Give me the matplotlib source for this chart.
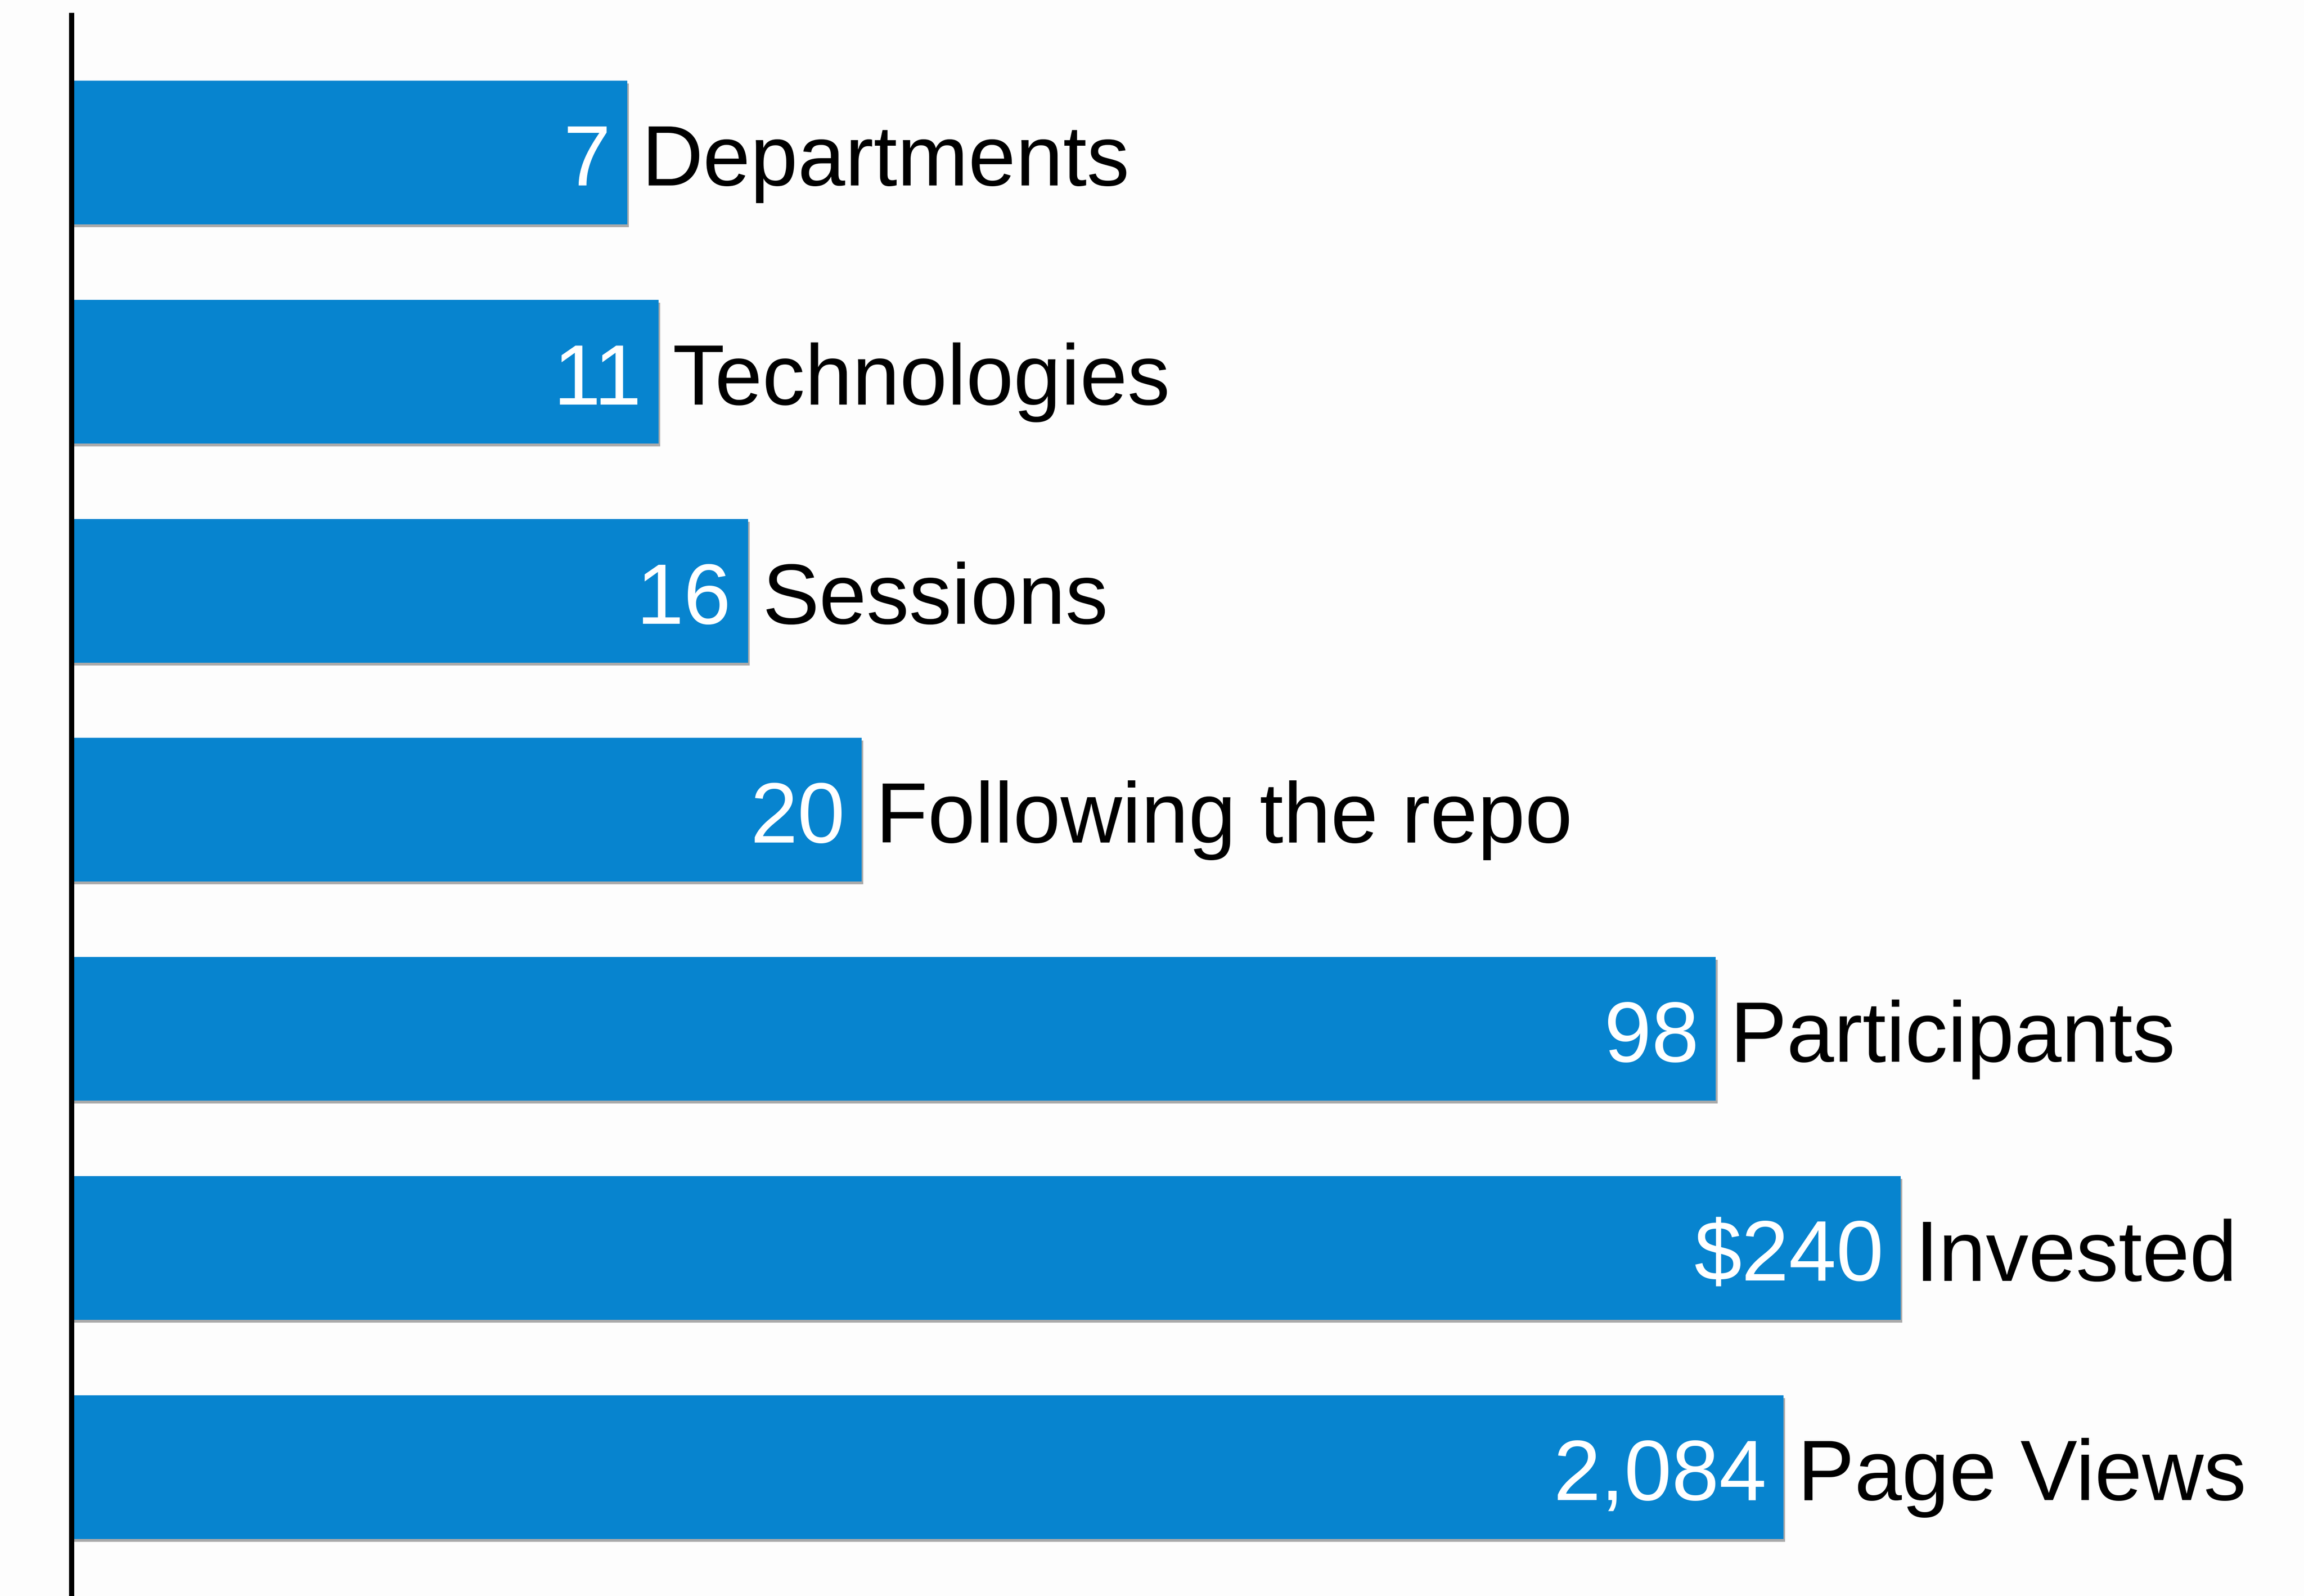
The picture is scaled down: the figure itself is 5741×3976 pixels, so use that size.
import numpy as np
import matplotlib
matplotlib.use("Agg")
import matplotlib.pyplot as plt
import matplotlib.patheffects as pe

# data (top to bottom)
labels = ["Departments", "Technologies", "Sessions", "Following the repo",
          "Participants", "Invested", "Page Views"]
value_text = ["7", "11", "16", "20", "98", "$240", "2,084"]
# bar lengths are not proportional to the values, so keep what was drawn
bar_lengths = [30.4, 32.1, 37.0, 43.2, 89.9, 100.0, 93.6]

bar_color = "#0784cf"
bg = "#fdfdfd"
font = "Liberation Sans"
fsize = 76.5

W, H, dpi = 5741, 3976, 200
fig = plt.figure(figsize=(W / dpi, H / dpi), dpi=dpi, facecolor=bg)
ax = fig.add_axes([177.5 / W, 0, 1 - 177.5 / W, 1 - 38 / H])
ax.set_facecolor("none")

ypos = np.arange(len(labels))
bars = ax.barh(ypos, bar_lengths, height=0.656, color=bar_color, zorder=2)
for b in bars:
    b.set_path_effects([pe.SimplePatchShadow(offset=(1.5, -2.5), shadow_rgbFace="#666666", alpha=0.55),
                        pe.Normal()])

ax.set_xlim(0, 122.05)
ax.set_ylim(len(labels) - 1 + 0.589, -0.627)

for sp in ["top", "right", "bottom"]:
    ax.spines[sp].set_visible(False)
ax.spines["left"].set_linewidth(13 / dpi * 72)
ax.spines["left"].set_color("black")
ax.spines["left"].set_zorder(3)
ax.set_xticks([])
ax.set_yticks([])

for y, length, v, lab in zip(ypos, bar_lengths, value_text, labels):
    ax.annotate(v, xy=(length, y), xytext=(-15, -29.5), textcoords="offset points",
                ha="right", va="baseline", color="white", fontsize=fsize,
                family=font, zorder=4)
    ax.annotate(lab, xy=(length, y), xytext=(12.6, -29.5), textcoords="offset points",
                ha="left", va="baseline", color="black", fontsize=fsize,
                family=font, zorder=4)

fig.savefig("out.png", dpi=dpi, facecolor=bg)
